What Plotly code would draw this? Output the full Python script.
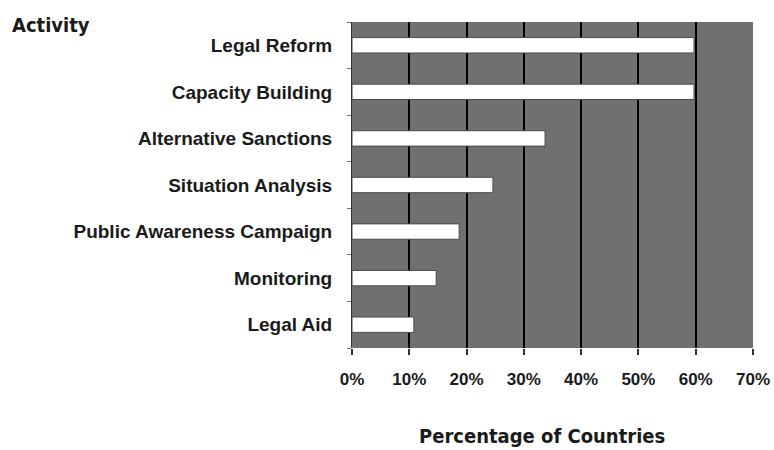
import plotly.graph_objects as go

activities = ["Legal Reform", "Capacity Building", "Alternative Sanctions",
              "Situation Analysis", "Public Awareness Campaign", "Monitoring", "Legal Aid"]
percent = [59.7, 59.7, 33.7, 24.6, 18.7, 14.7, 10.8]
x_ticks = [0, 10, 20, 30, 40, 50, 60, 70]
x_tick_labels = ["0%", "10%", "20%", "30%", "40%", "50%", "60%", "70%"]

HAND = "DejaVu Sans Condensed, Liberation Sans, sans-serif"

fig = go.Figure()
fig.add_trace(go.Bar(
    y=activities, x=percent, orientation="h",
    marker=dict(color="white", line=dict(color="#4a4a4a", width=1)),
    width=0.33,
))

fig.update_layout(
    template="none",
    width=774, height=450,
    margin=dict(l=352, r=21, t=22, b=102, autoexpand=False),
    paper_bgcolor="white", plot_bgcolor="#707070",
    showlegend=False,
    font=dict(family="Liberation Sans", color="#1a1a1a"),
    annotations=[
        dict(text="<b>Activity</b>", xref="paper", yref="paper",
             x=(10 - 352) / 401, y=(348 - 25) / 326, xanchor="left", yanchor="middle",
             showarrow=False, font=dict(family=HAND, size=20, color="#1a1a1a")),
        dict(text="<b>Percentage of Countries</b>", xref="paper", yref="paper",
             x=(542 - 352) / 401, y=(348 - 436) / 326, xanchor="center", yanchor="middle",
             showarrow=False, font=dict(family=HAND, size=20, color="#1a1a1a")),
    ],
)

fig.update_xaxes(
    automargin=False,
    range=[0, 70], tickvals=x_ticks, ticktext=x_tick_labels,
    showgrid=True, gridcolor="black", gridwidth=2,
    zeroline=False, showline=False,
    ticks="outside", ticklen=6, tickcolor="#333", tickwidth=2,
    ticklabelstandoff=10,
    tickfont=dict(family="Liberation Sans", size=17, color="#1a1a1a", weight="bold"),
)
fig.update_yaxes(
    automargin=False,
    categoryorder="array", categoryarray=activities[::-1],
    showgrid=False, zeroline=False,
    showline=True, linecolor="#333", linewidth=1,
    ticks="outside", tickson="boundaries", ticklen=4, tickcolor="#777",
    ticklabelstandoff=15,
    tickfont=dict(family="Liberation Sans", size=19, color="#1a1a1a", weight="bold"),
)

fig.write_html(
    "out.html",
    config={"displayModeBar": False},
    post_script="document.body.style.margin='0';document.body.style.overflow='hidden';",
)
